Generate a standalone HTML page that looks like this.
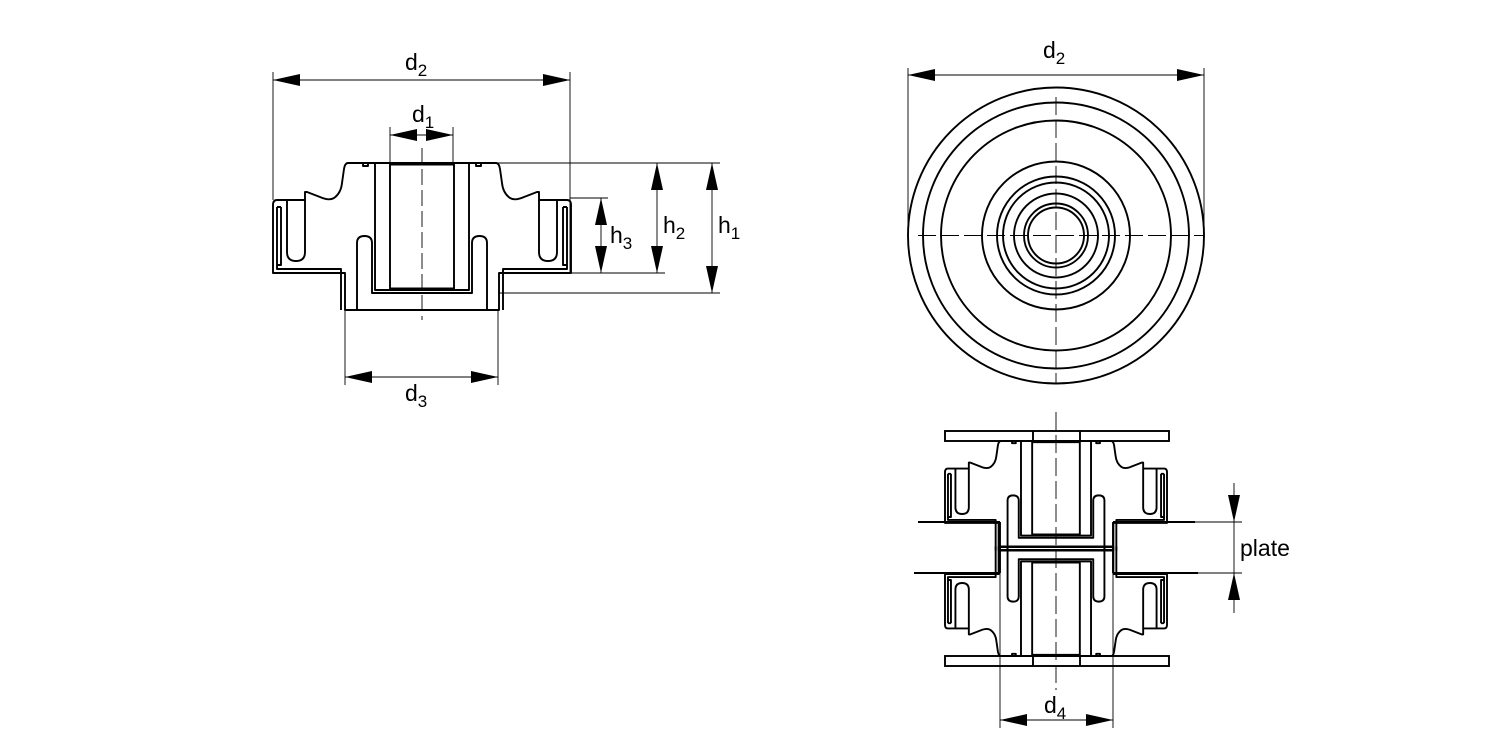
<!DOCTYPE html>
<html><head><meta charset="utf-8"><style>
html,body{margin:0;padding:0;background:#fff}
svg{display:block}
text{font-family:"Liberation Sans",Arial,sans-serif;fill:#000}
</style></head><body>
<svg width="1500" height="750" viewBox="0 0 1500 750" xmlns="http://www.w3.org/2000/svg">
<defs>
<marker id="a" viewBox="0 0 27 12" refX="27" refY="6" markerWidth="27" markerHeight="12" markerUnits="userSpaceOnUse" orient="auto-start-reverse"><path d="M0,0 L27,6 L0,12 Z" fill="#000"/></marker>
<g id="side" fill="none" stroke="#000" stroke-width="1.9" stroke-linejoin="round">
<path vector-effect="non-scaling-stroke" d="M0,0 L-74,0 Q-77,0 -78,6 L-80,20 Q-81,30 -88,35 Q-93,38 -102,34 L-115,29 L-117,29 L-117,37 L-145,37 Q-149,37 -149,42 L-149,110 L-77,110 L-77,147 L0,147"/>
<path vector-effect="non-scaling-stroke" d="M-135,37 L-135,89 Q-135,98 -126,98 Q-117,98 -117,89 L-117,37"/>
<path vector-effect="non-scaling-stroke" d="M-145,44 L-145,106 L-81,106 L-81,147"/>
<path vector-effect="non-scaling-stroke" d="M-141,44 L-141,102 L-145,102 M-141,44 L-145,44"/>
<path vector-effect="non-scaling-stroke" d="M-65,147 L-65,80 Q-65,73 -57.5,73 Q-50,73 -50,80 L-50,130 L0,130"/>
<path vector-effect="non-scaling-stroke" d="M-47,0 L-47,127 L0,127 M-32,0 L-32,127"/>
<path vector-effect="non-scaling-stroke" d="M-32,1.5 L0,1.5 M-32,125.5 L0,125.5"/>
<path vector-effect="non-scaling-stroke" d="M-59,0 L-59,3 L-54,3 L-54,0"/>
</g>
<g id="part"><use href="#side"/><use href="#side" transform="scale(-1,1)"/></g>
</defs>

<!-- LEFT VIEW -->
<use href="#part" transform="translate(422,163)"/>
<g stroke="#000" stroke-width="0.9" fill="none">
<line x1="422" y1="148" x2="422" y2="320" stroke-dasharray="16,5"/>
<line x1="273" y1="72" x2="273" y2="200"/>
<line x1="570" y1="72" x2="570" y2="273"/>
<line x1="390" y1="127" x2="390" y2="163"/>
<line x1="453" y1="127" x2="453" y2="163"/>
<line x1="345" y1="310" x2="345" y2="385"/>
<line x1="498" y1="310" x2="498" y2="385"/>
<line x1="494" y1="163" x2="720" y2="163"/>
<line x1="570" y1="198" x2="608" y2="198"/>
<line x1="570" y1="273" x2="665" y2="273"/>
<line x1="498" y1="293" x2="720" y2="293"/>
<line x1="273" y1="80" x2="570" y2="80" marker-start="url(#a)" marker-end="url(#a)"/>
<line x1="390" y1="135" x2="453" y2="135" marker-start="url(#a)" marker-end="url(#a)"/>
<line x1="345" y1="377" x2="498" y2="377" marker-start="url(#a)" marker-end="url(#a)"/>
<line x1="601" y1="198" x2="601" y2="273" marker-start="url(#a)" marker-end="url(#a)"/>
<line x1="657" y1="163" x2="657" y2="273" marker-start="url(#a)" marker-end="url(#a)"/>
<line x1="712" y1="163" x2="712" y2="293" marker-start="url(#a)" marker-end="url(#a)"/>
</g>
<text x="405" y="70" font-size="23">d<tspan font-size="17" dy="6">2</tspan></text>
<text x="412" y="122" font-size="23">d<tspan font-size="17" dy="6">1</tspan></text>
<text x="405" y="401" font-size="23">d<tspan font-size="17" dy="6">3</tspan></text>
<text x="610" y="243" font-size="23">h<tspan font-size="17" dy="6">3</tspan></text>
<text x="663" y="233" font-size="23">h<tspan font-size="17" dy="6">2</tspan></text>
<text x="718" y="233" font-size="23">h<tspan font-size="17" dy="6">1</tspan></text>

<!-- CIRCLE VIEW -->
<g stroke="#000" stroke-width="1.9" fill="none">
<circle cx="1056" cy="235.5" r="148"/>
<circle cx="1056" cy="235.5" r="133"/>
<circle cx="1056" cy="235.5" r="115"/>
<circle cx="1056" cy="235.5" r="74"/>
<circle cx="1056" cy="235.5" r="59"/>
<circle cx="1056" cy="235.5" r="53"/>
<circle cx="1056" cy="235.5" r="42"/>
<circle cx="1056" cy="235.5" r="32"/>
<circle cx="1056" cy="235.5" r="28"/>
</g>
<g stroke="#000" stroke-width="0.9" fill="none">
<line x1="1056" y1="97" x2="1056" y2="384" stroke-dasharray="18,5"/>
<line x1="918" y1="235.5" x2="1204" y2="235.5" stroke-dasharray="18,5"/>
<line x1="908" y1="68" x2="908" y2="235"/>
<line x1="1204" y1="68" x2="1204" y2="235"/>
<line x1="908" y1="75" x2="1204" y2="75" marker-start="url(#a)" marker-end="url(#a)"/>
</g>
<text x="1043" y="58" font-size="23">d<tspan font-size="17" dy="6">2</tspan></text>

<!-- BOTTOM RIGHT VIEW -->
<use href="#part" transform="translate(1056,441) scale(0.745)"/>
<use href="#part" transform="translate(1056,656) scale(0.745,-0.745)"/>
<g stroke="#000" stroke-width="1.9" fill="none">
<rect x="945" y="431" width="224" height="10"/>
<rect x="945" y="656" width="224" height="10"/>
<line x1="1033" y1="431" x2="1033" y2="441"/><line x1="1080" y1="431" x2="1080" y2="441"/>
<line x1="1033" y1="656" x2="1033" y2="666"/><line x1="1080" y1="656" x2="1080" y2="666"/>
<line x1="918" y1="522" x2="1000" y2="522"/>
<line x1="914" y1="573" x2="1000" y2="573"/>
<line x1="1113" y1="522" x2="1195" y2="522"/>
<line x1="1113" y1="573" x2="1198" y2="573"/>
<line x1="1000" y1="522" x2="1000" y2="573"/>
<line x1="1113" y1="522" x2="1113" y2="573"/>
<line x1="1000" y1="547" x2="1113" y2="547"/>
<line x1="1000" y1="550" x2="1113" y2="550"/>
</g>
<g stroke="#000" stroke-width="0.9" fill="none">
<line x1="1056" y1="412" x2="1056" y2="690" stroke-dasharray="18,5"/>
<line x1="1000" y1="573" x2="1000" y2="728"/>
<line x1="1113" y1="573" x2="1113" y2="728"/>
<line x1="1000" y1="720" x2="1113" y2="720" marker-start="url(#a)" marker-end="url(#a)"/>
<line x1="1195" y1="522" x2="1242" y2="522"/>
<line x1="1198" y1="573" x2="1242" y2="573"/>
<line x1="1234" y1="483" x2="1234" y2="522" marker-end="url(#a)"/>
<line x1="1234" y1="613" x2="1234" y2="573" marker-end="url(#a)"/>
<line x1="1234" y1="522" x2="1234" y2="573"/>
</g>
<text x="1044" y="713" font-size="23">d<tspan font-size="17" dy="6">4</tspan></text>
<text x="1240" y="556" font-size="23">plate</text>
</svg>
</body></html>
